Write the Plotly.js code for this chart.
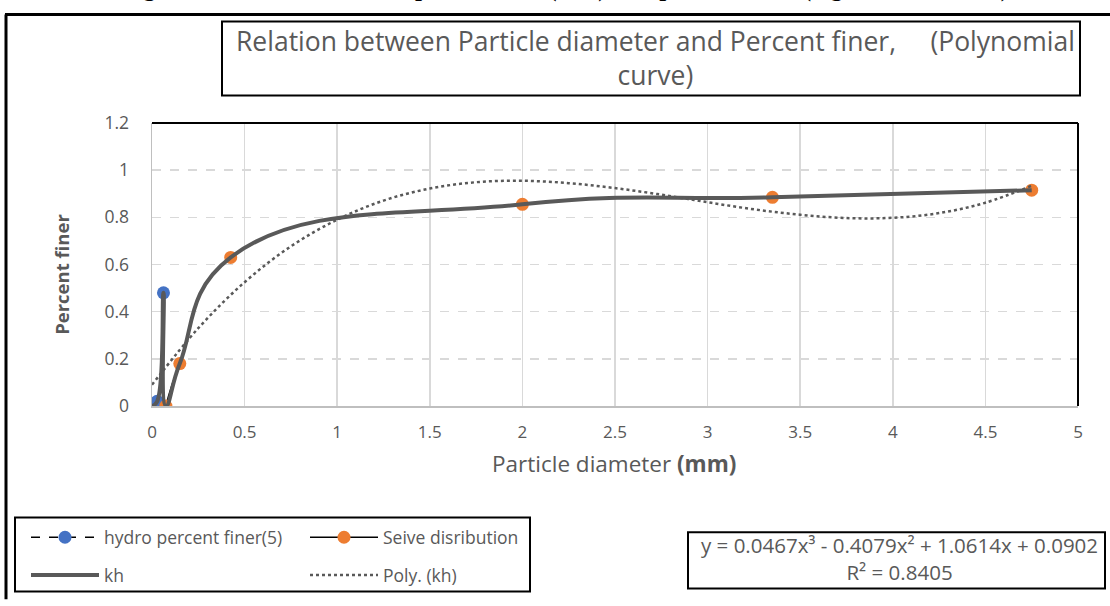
<!DOCTYPE html>
<html><head><meta charset="utf-8">
<script src="https://cdn.plot.ly/plotly-3.0.1.min.js"></script>
<style>html,body{margin:0;padding:0;background:#fff;overflow:hidden}#chart{width:1110px;height:606px}</style>
</head><body><div id="chart"></div><script>
// ---- data ----
const hydroX = [0, 0.028, 0.062];
const hydroY = [0, 0.02, 0.48];
const sieveX = [0.075, 0.15, 0.425, 2, 3.35, 4.75];
const sieveY = [0, 0.18, 0.63, 0.855, 0.885, 0.915];
const khX = [0, 0.028, 0.062, 0.075, 0.15, 0.425, 2, 3.35, 4.75];
const khY = [0, 0.02, 0.48, 0, 0.18, 0.63, 0.855, 0.885, 0.915];
const polyX = [0, 0.25, 0.5, 0.75, 1, 1.25, 1.5, 1.75, 2, 2.25, 2.5, 2.75, 3, 3.25, 3.5, 3.75, 4, 4.25, 4.5, 4.75];
const polyY = [0.09, 0.33, 0.525, 0.677, 0.79, 0.871, 0.922, 0.949, 0.955, 0.945, 0.924, 0.896, 0.864, 0.834, 0.811, 0.797, 0.798, 0.818, 0.862, 0.934];
const xTickVals = [0, 0.5, 1, 1.5, 2, 2.5, 3, 3.5, 4, 4.5, 5];
const xTickText = ["0", "0.5", "1", "1.5", "2", "2.5", "3", "3.5", "4", "4.5", "5"];
const yTickVals = [0, 0.2, 0.4, 0.6, 0.8, 1, 1.2];
const yTickText = ["0", "0.2", "0.4", "0.6", "0.8", "1", "1.2"];
const seriesNames = ["hydro percent finer(5)", "Seive disribution", "kh", "Poly. (kh)"];

// ---- page geometry ----
const W = 1110, H = 606, L = 152, R = 32, T = 123, B = 196;
const px = x => (x - L) / (W - L - R);
const py = y => (H - B - y) / (H - T - B);
const GRAY = '#595959';
const FONT = '"Open Sans", Lato, sans-serif';
const NB = '\u00a0';

const traces = [
  {x: hydroX, y: hydroY, name: seriesNames[0], mode: 'lines+markers', line: {shape: 'spline', smoothing: 1.3, color: '#000', width: 1.5, dash: 'dash'},
   marker: {color: '#4472C4', size: 13}, legend: 'legend', legendgroup: 'a', legendrank: 1},
  {x: sieveX, y: sieveY, name: seriesNames[1], mode: 'lines+markers', line: {shape: 'spline', smoothing: 1.3, color: '#000', width: 1.5},
   marker: {color: '#ED7D31', size: 13}, legend: 'legend2', legendgroup: 'b', legendrank: 1},
  {x: khX, y: khY, name: seriesNames[2], mode: 'lines', line: {shape: 'spline', smoothing: 1.3, color: GRAY, width: 4},
   legend: 'legend', legendgroup: 'c', legendrank: 2},
  {x: polyX, y: polyY, name: seriesNames[3], mode: 'lines', line: {shape: 'spline', color: GRAY, width: 2.5, dash: 'dot'},
   legend: 'legend2', legendgroup: 'd', legendrank: 2}
];

const rect = (x0, y0, x1, y1, w) => ({type: 'rect', xref: 'paper', yref: 'paper', x0: px(x0), x1: px(x1), y0: py(y0), y1: py(y1), line: {color: '#000', width: w}});
const seg = (x0, y0, x1, y1, w, c) => ({type: 'line', xref: 'paper', yref: 'paper', x0: px(x0), x1: px(x1), y0: py(y0), y1: py(y1), line: {color: c || '#000', width: w}});

const legendCommon = {orientation: 'v', bgcolor: 'rgba(0,0,0,0)', borderwidth: 0, font: {family: FONT, size: 17.5, color: GRAY},
  traceorder: 'grouped', tracegroupgap: 12, itemwidth: 68, xanchor: 'left', yanchor: 'top', itemclick: false};

const layout = {
  width: W, height: H,
  margin: {l: L, r: R, t: T, b: B, pad: 0},
  paper_bgcolor: '#fff', plot_bgcolor: '#fff',
  showlegend: true,
  font: {family: FONT, color: GRAY},
  xaxis: {range: [0, 5], tickvals: xTickVals, ticktext: xTickText, showgrid: true, gridcolor: '#d9d9d9', gridwidth: 1.5,
    zeroline: false, showline: true, linecolor: '#bfbfbf', linewidth: 1.5, ticks: '', ticklabelstandoff: 10,
    tickfont: {family: FONT, size: 17, color: GRAY}, fixedrange: true},
  yaxis: {range: [0, 1.2], tickvals: yTickVals, ticktext: yTickText, showgrid: true, gridcolor: '#d9d9d9', gridwidth: 1.5, griddash: 'dash',
    zeroline: false, showline: true, linecolor: '#bfbfbf', linewidth: 1.5, ticks: '', ticklabelstandoff: 18,
    tickfont: {family: FONT, size: 17.5, color: GRAY}, fixedrange: true},
  legend: Object.assign({x: px(26), y: py(525)}, legendCommon),
  legend2: Object.assign({x: px(305), y: py(525)}, legendCommon),
  shapes: [
    seg(6, 606, 6, 13, 3), seg(5, 13, 1110, 13, 3),
    rect(222, 20, 1080, 95, 2),
    seg(152, 123, 1078, 123, 2), seg(1078, 123, 1078, 410, 2),
    rect(15, 523, 530, 598, 2),
    rect(688, 538, 1105, 595, 2)
  ],
  annotations: [
    {xref: 'paper', yref: 'paper', x: px(568), y: py(2.5), xanchor: 'center', yanchor: 'bottom', showarrow: false,
     text: '<b>Figure 1: Relation between particle size (mm) and percent finer (logarithmic curve).</b>',
     font: {family: '"Liberation Serif", serif', size: 25, color: '#000'}},
    {xref: 'paper', yref: 'paper', x: px(655), y: py(57), xanchor: 'center', yanchor: 'middle', showarrow: false,
     text: 'Relation between Particle diameter and Percent finer,' + NB.repeat(5) + '(Polynomial<br>curve)',
     font: {family: FONT, size: 26.5, color: GRAY}},
    {xref: 'paper', yref: 'paper', x: px(62), y: py(277), xanchor: 'center', yanchor: 'middle', showarrow: false, textangle: -90,
     text: '<b>Percent finer</b>', font: {family: FONT, size: 18.5, color: GRAY}},
    {xref: 'paper', yref: 'paper', x: px(614), y: py(468), xanchor: 'center', yanchor: 'middle', showarrow: false,
     text: 'Particle diameter <b>(mm)</b>', font: {family: FONT, size: 22.5, color: GRAY}},
    {xref: 'paper', yref: 'paper', x: px(899), y: py(565), xanchor: 'center', yanchor: 'middle', showarrow: false,
     text: 'y = 0.0467x³ - 0.4079x² + 1.0614x + 0.0902<br>R² = 0.8405', font: {family: FONT, size: 20.5, color: GRAY}}
  ]
};

Plotly.newPlot('chart', traces, layout, {displayModeBar: false, staticPlot: true});
</script></body></html>
